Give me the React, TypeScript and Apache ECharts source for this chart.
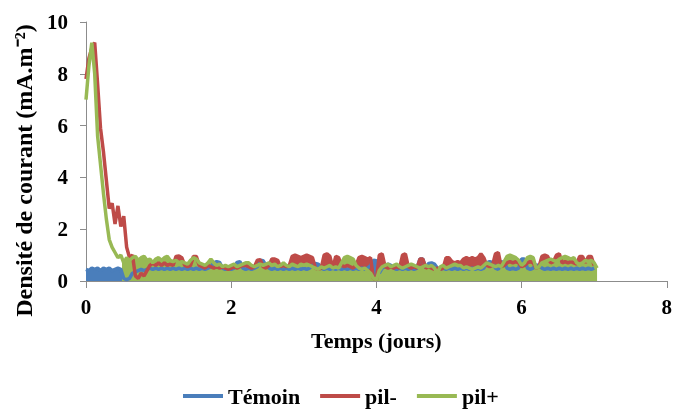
import React, { useEffect, useRef } from "react";
import * as echarts from "echarts";

// sampling step (days) of the recorded series
const STEP = 0.04;

const seriesNames = ["Témoin", "pil-", "pil+"];
const xTicks = [0, 2, 4, 6, 8];
const yTicks = [0, 2, 4, 6, 8, 10];

// Témoin (blue) – upper envelope of the recorded current
const temoin = [
  0.45, 0.4, 0.5, 0.45, 0.5, 0.4, 0.5, 0.45, 0.5, 0.4, 0.45, 0.5, 0.45, 0.1, 0.05, 0.1,
  0.3, 0.35, 0.4, 0.45, 0.4, 0.45, 0.5, 0.45, 0.5, 0.45, 0.5, 0.45, 0.5, 0.45, 0.5,
  0.45, 0.5, 0.45, 0.5, 0.45, 0.5, 0.45, 0.5, 0.45, 0.5, 0.45, 0.5, 0.55, 0.7, 0.75,
  0.72, 0.5, 0.45, 0.5, 0.45, 0.5, 0.72, 0.75, 0.5, 0.45, 0.5, 0.45, 0.5, 0.55, 0.8,
  0.78, 0.6, 0.5, 0.45, 0.5, 0.45, 0.5, 0.45, 0.5, 0.45, 0.5, 0.45, 0.5, 0.45, 0.5,
  0.45, 0.5, 0.6, 0.68, 0.65, 0.5, 0.45, 0.5, 0.45, 0.5, 0.45, 0.5, 0.45, 0.5, 0.45,
  0.5, 0.45, 0.5, 0.45, 0.5, 0.45, 0.5, 0.6, 0.8, 0.78, 0.3, 0.5, 0.55, 0.65, 0.6,
  0.5, 0.45, 0.5, 0.45, 0.5, 0.45, 0.5, 0.45, 0.5, 0.85, 0.85, 0.5, 0.68, 0.7, 0.65,
  0.5, 0.45, 0.5, 0.45, 0.5, 0.45, 0.5, 0.45, 0.5, 0.45, 0.5, 0.45, 0.5, 0.45, 0.5,
  0.45, 0.5, 0.7, 0.75, 0.72, 0.5, 0.45, 0.75, 0.72, 0.5, 0.45, 0.5, 0.45, 0.5, 0.85,
  0.85, 0.5, 0.45, 0.5, 0.62, 0.6, 0.5, 0.45, 0.5, 0.45, 0.5, 0.45, 0.5, 0.45, 0.5,
  0.45, 0.5, 0.45, 0.5, 0.45, 0.5, 0.45, 0.5, 0.45, 0.5,
];

// pil- (red)
const pilMoins = [
  7.8, 8.6, 9.0, 9.2, 7.6, 5.9, 5.0, 3.9, 2.8, 3.0, 2.2, 2.9, 2.1, 2.5, 1.3, 0.9,
  1.0, 0.2, 0.1, 0.3, 0.2, 0.4, 0.6, 0.7, 0.6, 0.7, 0.6, 0.7, 0.6, 0.65, 0.6,
  0.95, 0.97, 0.9, 0.6, 0.55, 0.6, 0.95, 0.95, 0.6, 0.55, 0.5, 0.6, 0.55, 0.5, 0.55,
  0.5, 0.55, 0.5, 0.45, 0.5, 0.55, 0.5, 0.55, 0.6, 0.6, 0.55, 0.5, 0.55, 0.8, 0.82,
  0.55, 0.5, 0.6, 0.85, 0.85, 0.8, 0.55, 0.6, 0.55, 0.6, 0.95, 1.0, 0.95, 0.9, 0.95,
  1.0, 0.95, 0.9, 0.5, 0.45, 0.5, 1.0, 1.05, 0.95, 0.5, 0.95, 0.9, 0.6, 0.55, 0.6,
  0.55, 0.5, 0.6, 0.9, 0.95, 0.9, 0.85, 0.9, 0.1, 0.05, 1.0, 1.05, 0.55, 0.5, 0.55,
  0.5, 0.55, 0.5, 1.0, 1.05, 0.55, 0.5, 0.55, 0.5, 0.85, 0.85, 0.5, 0.55, 0.5, 0.45,
  0.5, 0.45, 0.5, 0.9, 0.9, 0.75, 0.7, 0.75, 0.7, 0.85, 0.9, 0.85, 0.9, 0.85, 0.9,
  1.05, 0.9, 0.6, 0.55, 0.6, 1.05, 1.1, 0.55, 0.6, 0.7, 0.75, 0.7, 0.75, 0.7, 0.55,
  0.6, 0.7, 0.75, 0.7, 0.5, 0.55, 0.95, 1.0, 0.95, 0.7, 0.75, 1.0, 1.05, 0.7, 0.75,
  0.7, 0.75, 0.7, 0.65, 0.95, 0.95, 0.7, 0.95, 0.95, 0.6,
];

// pil+ (green)
const pilPlus = [
  7.0, 8.3, 9.2, 8.0, 5.6, 4.5, 3.4, 2.4, 1.6, 1.3, 1.1, 0.9, 1.0, 0.7, 0.9, 0.8,
  0.9, 0.95, 0.8, 0.9, 0.95, 0.8, 0.85, 0.7, 0.85, 0.9, 0.8, 0.9, 0.95, 0.8, 0.75,
  0.8, 0.7, 0.75, 0.7, 0.65, 0.8, 0.9, 0.85, 0.7, 0.65, 0.6, 0.7, 0.85, 0.7, 0.6,
  0.65, 0.55, 0.6, 0.55, 0.6, 0.65, 0.55, 0.6, 0.65, 0.7, 0.7, 0.6, 0.55, 0.6, 0.65,
  0.6, 0.65, 0.7, 0.6, 0.65, 0.55, 0.6, 0.7, 0.6, 0.55, 0.65, 0.6, 0.55, 0.65, 0.6,
  0.65, 0.6, 0.55, 0.5, 0.45, 0.55, 0.5, 0.55, 0.6, 0.5, 0.55, 0.5, 0.7, 0.9, 0.95,
  0.9, 0.85, 0.6, 0.5, 0.45, 0.5, 0.4, 0.3, 0.1, 0.05, 0.4, 0.55, 0.6, 0.65, 0.55,
  0.6, 0.65, 0.55, 0.5, 0.55, 0.6, 0.65, 0.6, 0.55, 0.5, 0.55, 0.6, 0.55, 0.6, 0.5,
  0.3, 0.55, 0.6, 0.5, 0.55, 0.6, 0.65, 0.6, 0.6, 0.5, 0.55, 0.5, 0.45, 0.5, 0.55,
  0.5, 0.6, 0.7, 0.65, 0.6, 0.55, 0.6, 0.55, 0.75, 0.95, 1.0, 0.95, 0.9, 0.8, 0.6,
  0.7, 0.9, 0.95, 0.9, 0.5, 0.55, 0.7, 0.75, 0.8, 0.85, 0.8, 0.75, 0.85, 0.9, 0.95,
  0.9, 0.85, 0.9, 0.7, 0.65, 0.7, 0.8, 0.75, 0.8, 0.7, 0.5,
];

// time (days) from which each trace is so dense it reads as a filled band
const bandStart = [0, 0.68, 0.5];

const colors = ["#4a7ebb", "#be4b48", "#98b954"];
const FONT = "Liberation Serif";

const toPairs = (vals: number[]) => vals.map((v, i) => [+(i * STEP).toFixed(2), v]);

function bandFill(color: string, start: number, len: number) {
  const f = Math.min(1, Math.max(0, start / ((len - 1) * STEP)));
  return new echarts.graphic.LinearGradient(0, 0, 1, 0, [
    { offset: 0, color: f > 0 ? "rgba(255,255,255,0)" : color },
    { offset: f, color: f > 0 ? "rgba(255,255,255,0)" : color },
    { offset: f, color },
    { offset: 1, color },
  ]);
}

export default function App() {
  const ref = useRef<HTMLDivElement>(null);
  useEffect(() => {
    if (!ref.current) return;
    const chart = echarts.init(ref.current, null, { renderer: "svg" });
    const allData = [temoin, pilMoins, pilPlus];
    chart.setOption({
      animation: false,
      color: colors,
      textStyle: { fontFamily: FONT },
      grid: { left: 86, right: 6, top: 22, bottom: 128, containLabel: false },
      legend: {
        data: seriesNames,
        top: 380,
        left: 178,
        icon: "rect",
        itemWidth: 40,
        itemHeight: 4,
        itemGap: 20,
        textStyle: { fontFamily: FONT, fontWeight: "bold", fontSize: 22, color: "#000" },
      },
      xAxis: {
        type: "value",
        min: xTicks[0],
        max: xTicks[xTicks.length - 1],
        interval: 2,
        name: "Temps (jours)",
        nameLocation: "middle",
        nameGap: 48,
        nameTextStyle: { fontFamily: FONT, fontWeight: "bold", fontSize: 22, color: "#000" },
        axisLine: { lineStyle: { color: "#8c8c8c", width: 1 } },
        axisTick: { show: true, length: 7, lineStyle: { color: "#8c8c8c" } },
        splitLine: { show: false },
        axisLabel: { fontFamily: FONT, fontWeight: "bold", fontSize: 21, color: "#000", margin: 15 },
      },
      yAxis: {
        type: "value",
        min: yTicks[0],
        max: yTicks[yTicks.length - 1],
        interval: 2,
        name: "Densité de courant (mA.m⁻²)",
        nameLocation: "middle",
        nameGap: 50,
        nameRotate: 90,
        nameTextStyle: {
          fontFamily: FONT,
          fontWeight: "bold",
          fontSize: 24,
          color: "#000",
          padding: [0, 0, 0, -38],
        },
        axisLine: { show: true, lineStyle: { color: "#8c8c8c", width: 1 } },
        axisTick: { show: true, length: 6, lineStyle: { color: "#8c8c8c" } },
        splitLine: { show: false },
        axisLabel: { fontFamily: FONT, fontWeight: "bold", fontSize: 21, color: "#000", margin: 18 },
      },
      series: seriesNames.map((name, k) => ({
        name,
        type: "line",
        data: toPairs(allData[k]),
        showSymbol: false,
        symbol: "none",
        lineStyle: { width: 3.5, color: colors[k] },
        itemStyle: { color: colors[k] },
        areaStyle: { color: bandFill(colors[k], bandStart[k], allData[k].length), opacity: 1 },
      })),
    });
    return () => chart.dispose();
  }, []);
  return (
    <div
      ref={ref}
      style={{ position: "fixed", left: 0, top: 0, width: 675, height: 409 }}
    />
  );
}
